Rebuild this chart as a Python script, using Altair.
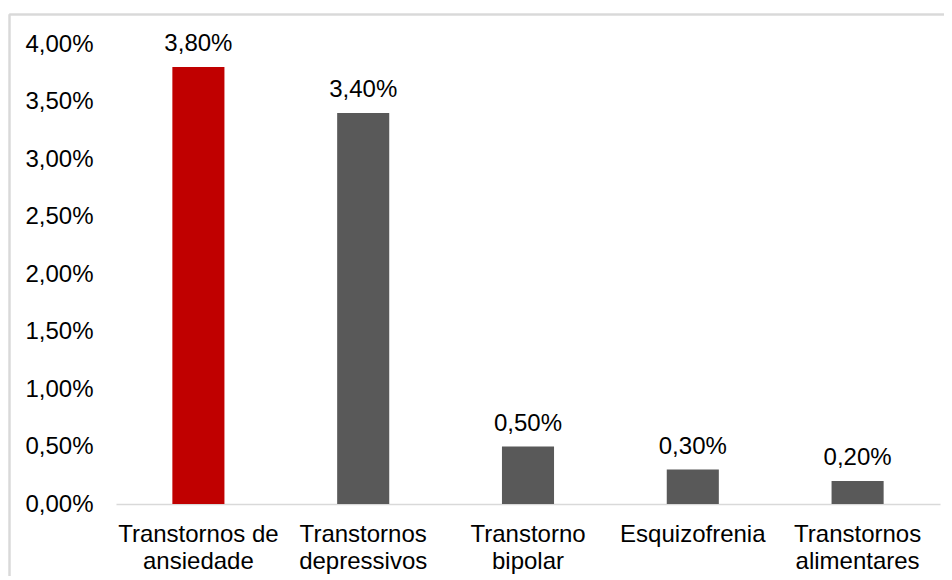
import altair as alt
import pandas as pd

categories = [
    "Transtornos de\nansiedade",
    "Transtornos\ndepressivos",
    "Transtorno\nbipolar",
    "Esquizofrenia",
    "Transtornos\nalimentares",
]
values = [0.038, 0.034, 0.005, 0.003, 0.002]
groups = ["destaque", "outro", "outro", "outro", "outro"]
y_ticks = [0, 0.005, 0.01, 0.015, 0.02, 0.025, 0.03, 0.035, 0.04]

df = pd.DataFrame({"cat": categories, "val": values, "grp": groups})

FONT = "Liberation Sans"
FS = 24

x_enc = alt.X(
    "cat:N",
    sort=categories,
    title=None,
    scale=alt.Scale(paddingInner=0.684, paddingOuter=0.342),
    axis=alt.Axis(
        labelAngle=0,
        labelFont=FONT,
        labelFontSize=FS,
        labelColor="#000000",
        labelLineHeight=27,
        labelBaseline="top",
        labelPadding=18,
        labelExpr="split(datum.value, '\\n')",
        ticks=False,
        tickSize=0,
        domainColor="#d9d9d9",
        domainWidth=1.5,
        grid=False,
    ),
)
y_enc = alt.Y(
    "val:Q",
    title=None,
    scale=alt.Scale(domain=[0, 0.04], nice=False),
    axis=alt.Axis(
        values=y_ticks,
        labelExpr="replace(format(datum.value, '.2%'), '.', ',')",
        labelFont=FONT,
        labelFontSize=FS,
        labelColor="#000000",
        labelPadding=23,
        ticks=False,
        tickSize=0,
        domain=False,
        grid=False,
    ),
)

base = alt.Chart(df)

bars = base.mark_bar().encode(
    x=x_enc,
    y=y_enc,
    color=alt.Color(
        "grp:N",
        scale=alt.Scale(domain=["destaque", "outro"], range=["#c00000", "#595959"]),
        legend=None,
    ),
)

labels = base.transform_calculate(
    lbl="replace(format(datum.val, '.2%'), '.', ',')"
).mark_text(
    font=FONT, fontSize=FS, color="#000000", baseline="alphabetic", dy=-16
).encode(x=alt.X("cat:N", sort=categories), y="val:Q", text="lbl:N")

frame_top = alt.Chart(df).mark_rule(color="#d9d9d9", strokeWidth=1.5).encode(
    x=alt.value(-106.5), x2=alt.value(900), y=alt.value(-29.5)
)
frame_left = alt.Chart(df).mark_rule(color="#d9d9d9", strokeWidth=1.5).encode(
    x=alt.value(-106.5), y=alt.value(-29.5), y2=alt.value(700)
)

chart = (
    alt.layer(frame_top, frame_left, bars, labels)
    .properties(
        width=824,
        height=460,
        background="white",
        autosize=alt.AutoSizeParams(type="none"),
        padding={"left": 108, "top": 36, "right": 4, "bottom": 72},
    )
    .configure_view(strokeWidth=0, stroke="transparent")
)

chart.save("out.html", embed_options={"renderer": "svg", "actions": False})
